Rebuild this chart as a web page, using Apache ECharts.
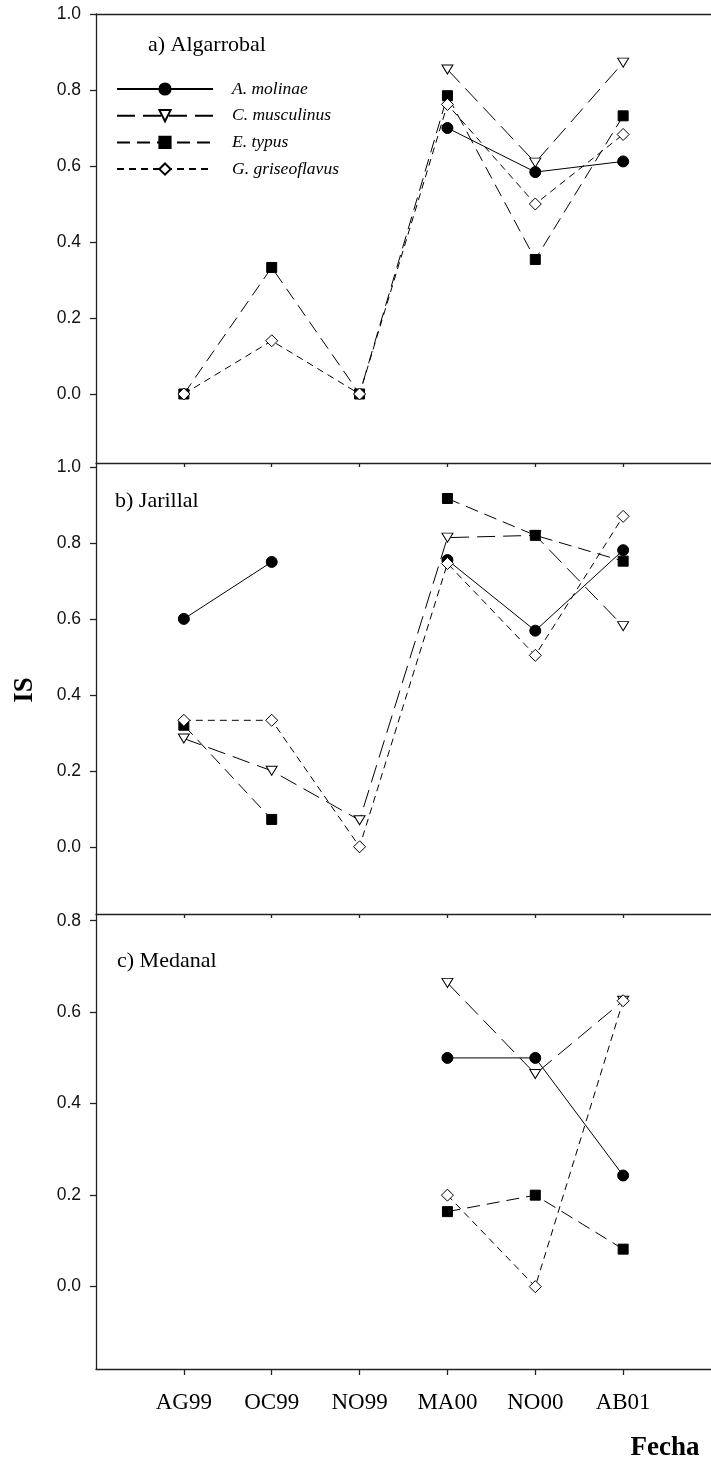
<!DOCTYPE html>
<html><head><meta charset="utf-8">
<script src="https://cdn.jsdelivr.net/npm/echarts@6/dist/echarts.min.js"></script>
<style>html,body{margin:0;padding:0;background:#fff}#c{width:711px;height:1463px}</style>
</head><body><div id="c"></div>
<script>
// ---- data ----
const categories = ['AG99', 'OC99', 'NO99', 'MA00', 'NO00', 'AB01'];
const species = ['A. molinae', 'C. musculinus', 'E. typus', 'G. griseoflavus'];
const panelTitles = ['a) Algarrobal', 'b) Jarillal', 'c) Medanal'];

// a) Algarrobal
const algA = [null, null, null, 0.70, 0.584, 0.612];
const algC = [null, null, null, 0.854, 0.609, 0.872];
const algE = [0.0, 0.333, 0.0, 0.785, 0.354, 0.732];
const algG = [0.0, 0.14, 0.0, 0.762, 0.50, 0.683];
// b) Jarillal
const jarA = [0.60, 0.75, null, 0.755, 0.569, 0.781];
const jarC = [0.285, 0.20, 0.07, 0.814, 0.82, 0.581];
const jarE = [0.32, 0.072, null, 0.917, 0.82, 0.752];
const jarG = [0.333, 0.333, 0.0, 0.746, 0.504, 0.87];
// c) Medanal
const medA = [null, null, null, 0.50, 0.50, 0.243];
const medC = [null, null, null, 0.664, 0.465, 0.625];
const medE = [null, null, null, 0.164, 0.20, 0.082];
const medG = [null, null, null, 0.20, 0.0, 0.625];

const ticksAB = [0, 0.2, 0.4, 0.6, 0.8, 1.0];
const ticksC = [0, 0.2, 0.4, 0.6, 0.8];

const panels = [[algA, algC, algE, algG], [jarA, jarC, jarE, jarG], [medA, medC, medE, medG]];

// ---- styles ----
const serif = '"Liberation Serif", "DejaVu Serif", serif';
const sans = '"Liberation Sans", Arial, sans-serif';
const axisCol = '#222';
const styles = [
  { symbol: 'circle', size: 11, rotate: 0, fill: '#000', dash: 'solid' },
  { symbol: 'triangle', size: [11, 9], rotate: 180, fill: '#fff', dash: [18, 8] },
  { symbol: 'rect', size: 10, rotate: 0, fill: '#000', dash: [13, 7] },
  { symbol: 'diamond', size: 12, rotate: 0, fill: '#fff', dash: [7, 5] }
];

const grids = [
  { left: 96, top: 14, width: 623, height: 449 },
  { left: 96, top: 463, width: 623, height: 451 },
  { left: 96, top: 914, width: 623, height: 455 }
];
const yRanges = [[-0.1816, 1.0], [-0.177, 1.0105], [-0.18, 0.8146]];

const xAxes = [], yAxes = [], series = [];
for (let p = 0; p < 3; p++) {
  const last = p === 2;
  xAxes.push({
    gridIndex: p, type: 'value', min: 0, max: 7, position: 'bottom',
    splitLine: { show: false },
    axisLine: { show: true, onZero: false, lineStyle: { color: axisCol, width: 1.3 } },
    axisTick: { show: true, inside: false, length: last ? 6 : 4, customValues: [1, 2, 3, 4, 5, 6], lineStyle: { color: axisCol, width: 1.3 } },
    axisLabel: {
      show: last, customValues: [1, 2, 3, 4, 5, 6], margin: 22,
      formatter: v => categories[Math.round(v) - 1] || '',
      fontFamily: serif, fontSize: 23, color: '#000'
    }
  });
  const ticks = p === 2 ? ticksC : ticksAB;
  yAxes.push({
    gridIndex: p, type: 'value', min: yRanges[p][0], max: yRanges[p][1],
    splitLine: { show: false },
    axisLine: { show: true, onZero: false, lineStyle: { color: axisCol, width: 1.3 } },
    axisTick: { show: true, inside: false, length: 6, customValues: ticks, lineStyle: { color: axisCol, width: 1.3 } },
    axisLabel: {
      customValues: ticks, margin: 15, formatter: v => v.toFixed(1),
      fontFamily: sans, fontSize: 17.5, color: '#111'
    }
  });
  panels[p].forEach((vals, s) => {
    const st = styles[s];
    series.push({
      name: species[s], type: 'line', xAxisIndex: p, yAxisIndex: p,
      data: vals.map((v, i) => [i + 1, v]),
      symbol: st.symbol, symbolSize: st.size, symbolRotate: st.rotate,
      showAllSymbol: true, connectNulls: false, silent: true, animation: false,
      lineStyle: { color: '#000', width: 1, type: st.dash },
      itemStyle: { color: st.fill, borderColor: '#000', borderWidth: 1 },
      z: 2 + s
    });
  });
}
// top frame of panel a
xAxes.push({
  gridIndex: 0, type: 'value', min: 0, max: 7, position: 'top',
  axisLine: { show: true, onZero: false, lineStyle: { color: axisCol, width: 1.3 } },
  axisTick: { show: false }, axisLabel: { show: false }, splitLine: { show: false }
});

const titleTops = [[148, 46], [115, 502], [117, 962]];
const graphics = panelTitles.map((t, i) => ({
  type: 'text', left: titleTops[i][0], top: titleTops[i][1] - 12,
  style: { text: t, font: '22px ' + serif, fill: '#000' }
}));
graphics.push({
  type: 'text', x: 25, y: 690, rotation: Math.PI / 2,
  style: { text: 'IS', font: 'bold 27px ' + serif, fill: '#000', align: 'center', verticalAlign: 'middle' }
});
graphics.push({
  type: 'text', x: 665, y: 1448,
  style: { text: 'Fecha', font: 'bold 27px ' + serif, fill: '#000', align: 'center', verticalAlign: 'middle' }
});

const chart = echarts.init(document.getElementById('c'), null, { renderer: 'canvas' });
chart.setOption({
  animation: false,
  backgroundColor: '#fff',
  grid: grids.map(g => Object.assign({ containLabel: false }, g)),
  xAxis: xAxes,
  yAxis: yAxes,
  legend: {
    data: species, orient: 'vertical', left: 111, top: 75,
    itemWidth: 96, itemHeight: 14, itemGap: 8.7,
    textStyle: { fontFamily: serif, fontStyle: 'italic', fontSize: 17.5, color: '#000', padding: [0, 0, 0, 14] },
    selectedMode: false
  },
  graphic: graphics,
  series: series
});
</script>
</body></html>
